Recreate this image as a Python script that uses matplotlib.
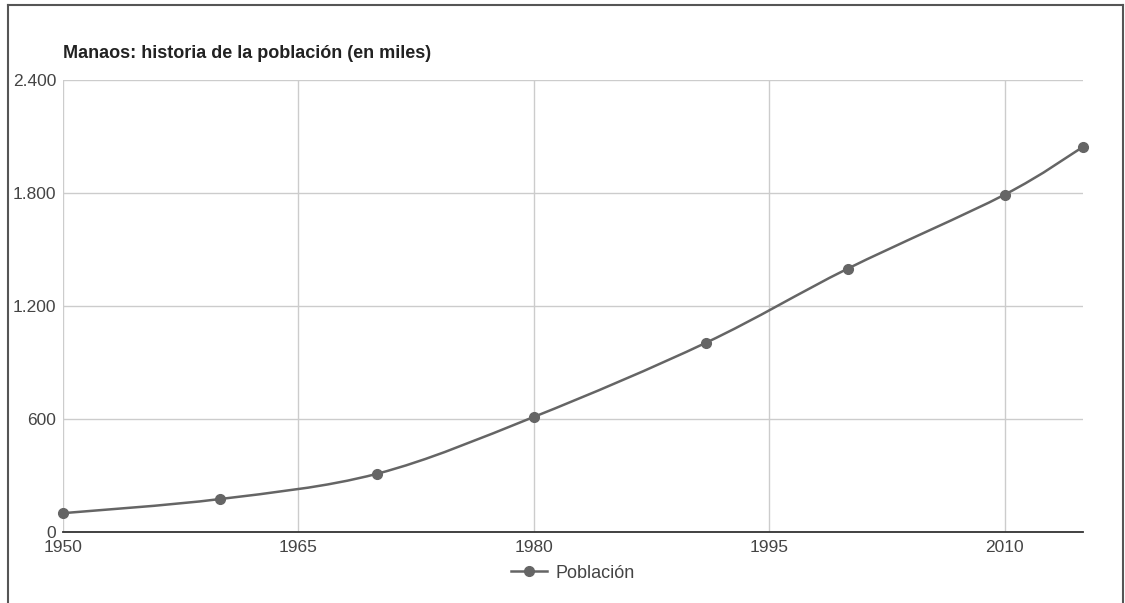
import numpy as np
import matplotlib.pyplot as plt
from matplotlib.path import Path
from matplotlib.patches import PathPatch
from matplotlib.lines import Line2D
from matplotlib.ticker import FuncFormatter

plt.rcParams['font.family'] = ['Liberation Sans', 'DejaVu Sans']

years = [1950, 1960, 1970, 1980, 1991, 2000, 2010, 2015]
poblacion = [100, 175, 309, 611, 1006, 1398, 1791, 2045]
x_ticks = [1950, 1965, 1980, 1995, 2010]
y_ticks = [0, 600, 1200, 1800, 2400]

line_col = '#656565'

fig = plt.figure(figsize=(11.25, 6.03), dpi=100)
ax = fig.add_axes([63/1125, 1-532/603, 1020/1125, 452/603])

# smooth curve (cubic bezier through the points, like curveType 'function')
x = np.array(years, dtype=float)
y = np.array(poblacion, dtype=float)
n = len(x)
verts = [(x[0], y[0])]
codes = [Path.MOVETO]
t = 1/6
for i in range(n - 1):
    x0, y0 = (x[i-1], y[i-1]) if i > 0 else (x[i], y[i])
    x3, y3 = (x[i+2], y[i+2]) if i + 2 < n else (x[i+1], y[i+1])
    c1 = (x[i] + (x[i+1] - x0) * t, y[i] + (y[i+1] - y0) * t)
    c2 = (x[i+1] - (x3 - x[i]) * t, y[i+1] - (y3 - y[i]) * t)
    verts += [c1, c2, (x[i+1], y[i+1])]
    codes += [Path.CURVE4] * 3
ax.add_patch(PathPatch(Path(verts, codes), fill=False, edgecolor=line_col,
                       lw=1.8, zorder=3, clip_on=False))
ax.plot(years, poblacion, 'o', color=line_col, ms=7, zorder=4, clip_on=False)

ax.set_xlim(1950, 2015)
ax.set_ylim(0, 2400)
ax.set_xticks(x_ticks)
ax.set_yticks(y_ticks)
ax.yaxis.set_major_formatter(FuncFormatter(lambda v, p: f'{int(v):,}'.replace(',', '.')))
ax.grid(True, color='#cccccc', lw=1)
ax.set_axisbelow(True)
for s in ['top', 'right', 'left']:
    ax.spines[s].set_visible(False)
ax.spines['bottom'].set_color('#333333')
ax.spines['bottom'].set_linewidth(1.3)
ax.spines['bottom'].set_zorder(2)
ax.tick_params(length=0, labelsize=12.5, labelcolor='#444444')
ax.tick_params(axis='x', pad=6)
ax.tick_params(axis='y', pad=5)

fig.text(63/1125, 1-54/603, 'Manaos: historia de la población (en miles)',
         fontsize=13, fontweight='bold', color='#222222', va='center')

handle = Line2D([], [], color=line_col, lw=1.8, marker='o', ms=7)
fig.legend([handle], ['Población'], loc='center', bbox_to_anchor=(573/1125, 1-573/603),
           frameon=False, fontsize=13, labelcolor='#444444', handlelength=2.0,
           handletextpad=0.5)

# outer frame
fc = '#555555'
fig.add_artist(Line2D([8/1125, 1123/1125], [1-5/603, 1-5/603], color=fc, lw=1.5))
fig.add_artist(Line2D([8/1125, 8/1125], [0, 1-5/603], color=fc, lw=1.5))
fig.add_artist(Line2D([1123/1125, 1123/1125], [0, 1-5/603], color=fc, lw=1.5))

fig.savefig('out.png', dpi=100)
